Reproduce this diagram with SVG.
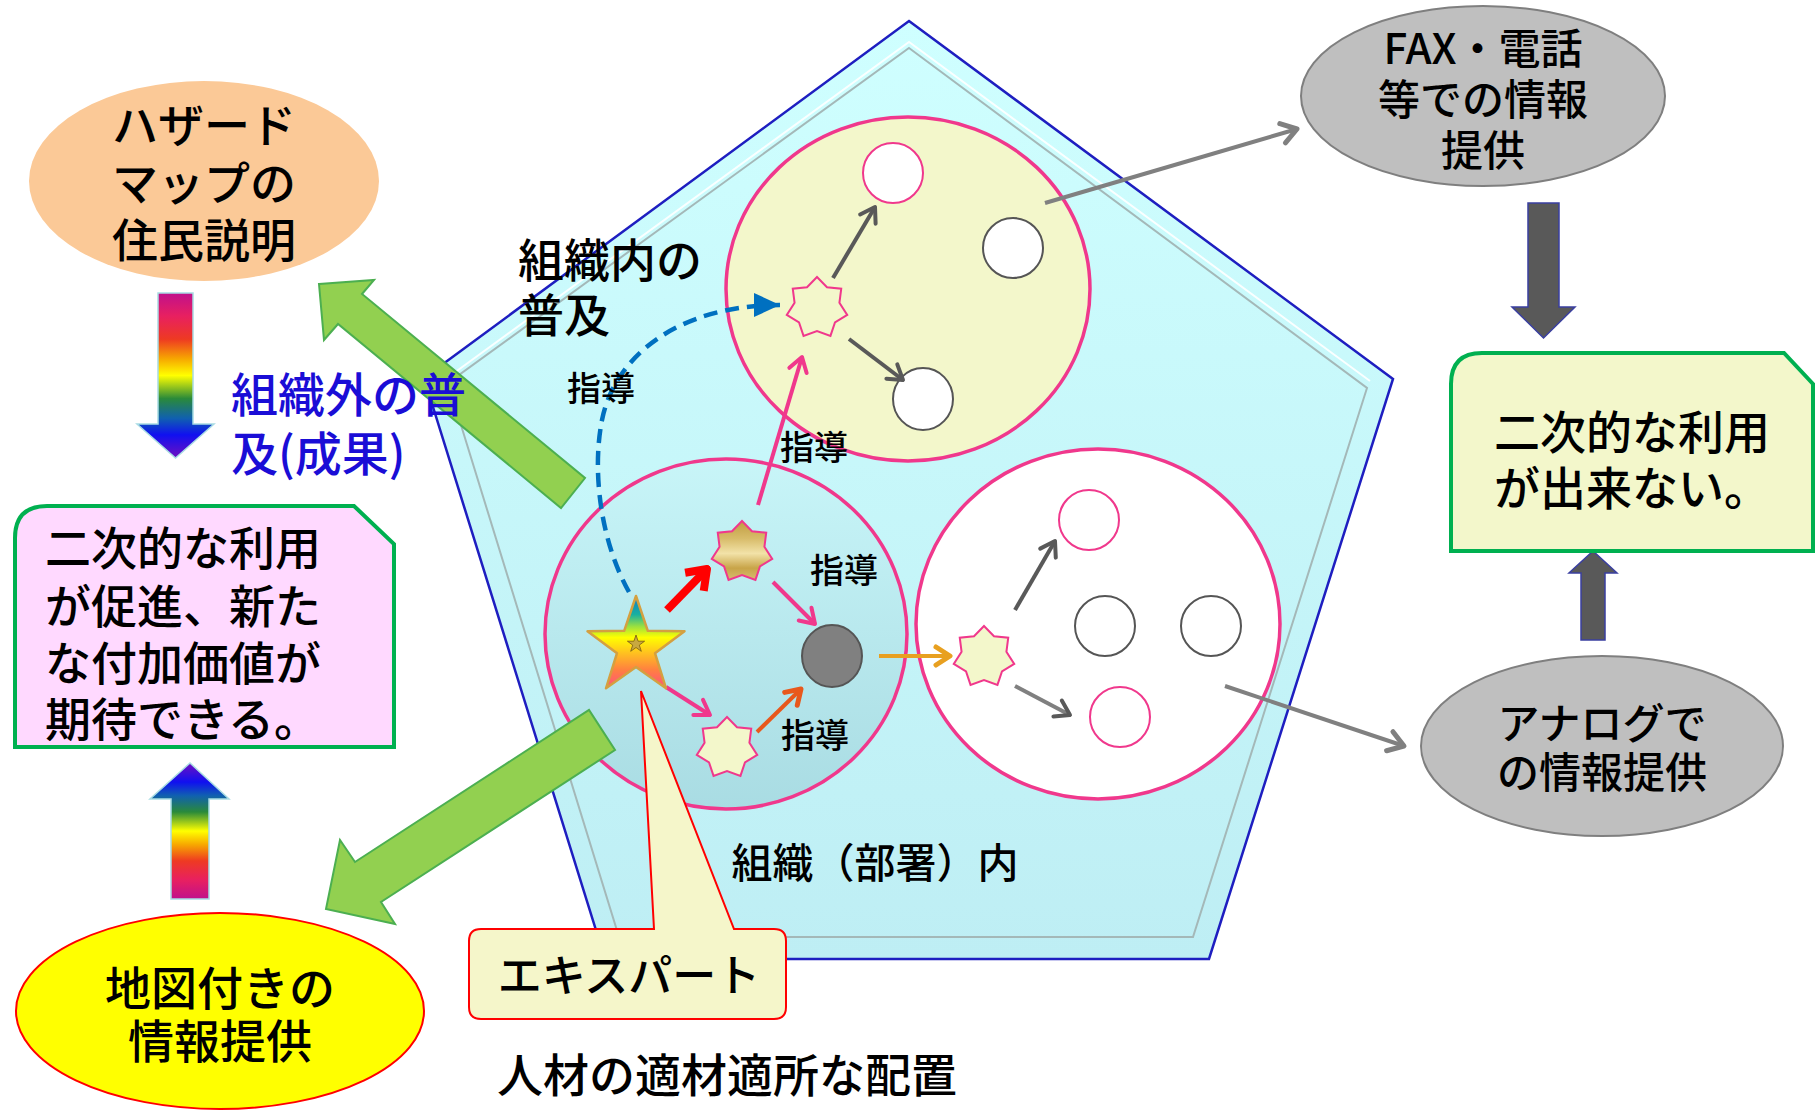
<svg xmlns="http://www.w3.org/2000/svg" xmlns:xlink="http://www.w3.org/1999/xlink" width="1816" height="1110" viewBox="0 0 1816 1110">
<style>
  .t { font-family: 'Noto Sans CJK JP', 'Noto Sans', sans-serif; fill: #000; font-weight: 500; }
  .t46 { font-size: 46px; }
  .t42 { font-size: 42px; }
  .t34 { font-size: 34px; }
  .mid { text-anchor: middle; }
  .blue { fill: #1A0DD6; font-size: 47px; }
  .ring { stroke: #F0388C; stroke-width: 3.5; }
  .small-pink { fill: #FFFFFF; stroke: #F0388C; stroke-width: 2; }
  .small-dark { fill: #FFFFFF; stroke: #555555; stroke-width: 2; }
  .st7 { stroke: #F0388C; stroke-width: 2; }
  .ln { fill: none; stroke-width: 4; }
  .green-block { fill: #92D050; stroke: #4CAF50; stroke-width: 2; }
  .dark-block { fill: #595959; stroke: #3A3FA0; stroke-width: 1.5; }
  .gray-oval { fill: #BFBFBF; stroke: #7F7F7F; stroke-width: 2; }
</style>
<defs>
  <linearGradient id="gPent" x1="0" y1="0" x2="0" y2="1">
    <stop offset="0" stop-color="#CFFFFF"/>
    <stop offset="1" stop-color="#BEEEF4"/>
  </linearGradient>
  <linearGradient id="gCircLeft" x1="0" y1="0" x2="0" y2="1">
    <stop offset="0" stop-color="#C8F5F8"/>
    <stop offset="1" stop-color="#A9DCE3"/>
  </linearGradient>
  <linearGradient id="gRainDown" x1="0" y1="0" x2="0" y2="1">
    <stop offset="0" stop-color="#C0108C"/>
    <stop offset="0.14" stop-color="#E82060"/>
    <stop offset="0.28" stop-color="#EE3A22"/>
    <stop offset="0.40" stop-color="#F7A800"/>
    <stop offset="0.50" stop-color="#FFFF00"/>
    <stop offset="0.64" stop-color="#2A8A3A"/>
    <stop offset="0.76" stop-color="#1060B0"/>
    <stop offset="0.86" stop-color="#1010F0"/>
    <stop offset="1" stop-color="#7010C0"/>
  </linearGradient>
  <linearGradient id="gRainUp" x1="0" y1="1" x2="0" y2="0">
    <stop offset="0" stop-color="#C0108C"/>
    <stop offset="0.14" stop-color="#E82060"/>
    <stop offset="0.28" stop-color="#EE3A22"/>
    <stop offset="0.40" stop-color="#F7A800"/>
    <stop offset="0.50" stop-color="#FFFF00"/>
    <stop offset="0.64" stop-color="#2A8A3A"/>
    <stop offset="0.76" stop-color="#1060B0"/>
    <stop offset="0.86" stop-color="#1010F0"/>
    <stop offset="1" stop-color="#7010C0"/>
  </linearGradient>
  <linearGradient id="gStar" x1="0" y1="0" x2="0" y2="1">
    <stop offset="0" stop-color="#1078C8"/>
    <stop offset="0.2" stop-color="#18B0A0"/>
    <stop offset="0.33" stop-color="#9AE040"/>
    <stop offset="0.45" stop-color="#FFFF00"/>
    <stop offset="0.62" stop-color="#FFC020"/>
    <stop offset="0.8" stop-color="#FF8040"/>
    <stop offset="1" stop-color="#FF5080"/>
  </linearGradient>
  <linearGradient id="gGold" x1="0" y1="0" x2="0" y2="1">
    <stop offset="0" stop-color="#C09C40"/>
    <stop offset="0.3" stop-color="#D8BC6A"/>
    <stop offset="0.55" stop-color="#F2E2A8"/>
    <stop offset="0.8" stop-color="#C8A448"/>
    <stop offset="1" stop-color="#D8BC70"/>
  </linearGradient>
  <path id="star7" d="M0,-31 L9.98,-20.72 L24.24,-19.33 L22.42,-5.12 L30.22,6.9 L17.98,14.34 L13.45,27.93 L0,23 L-13.45,27.93 L-17.98,14.34 L-30.22,6.9 L-22.42,-5.12 L-24.24,-19.33 L-9.98,-20.72 Z"/>
  <marker id="mk-dgray" viewBox="-20 -15 24 30" refX="0" refY="0" markerWidth="24" markerHeight="30" markerUnits="userSpaceOnUse" orient="auto">
    <path d="M-14,-9 L0,0 L-14,9" fill="none" stroke="#595959" stroke-width="4" stroke-linecap="round" stroke-linejoin="round"/>
  </marker>
  <marker id="mk-gray" viewBox="-20 -15 24 30" refX="0" refY="0" markerWidth="24" markerHeight="30" markerUnits="userSpaceOnUse" orient="auto">
    <path d="M-15,-10 L0,0 L-15,10" fill="none" stroke="#808080" stroke-width="5" stroke-linecap="round" stroke-linejoin="round"/>
  </marker>
  <marker id="mk-pink" viewBox="-20 -15 24 30" refX="0" refY="0" markerWidth="24" markerHeight="30" markerUnits="userSpaceOnUse" orient="auto">
    <path d="M-14,-9 L0,0 L-14,9" fill="none" stroke="#F0388C" stroke-width="4" stroke-linecap="round" stroke-linejoin="round"/>
  </marker>
  <marker id="mk-orange" viewBox="-20 -15 24 30" refX="0" refY="0" markerWidth="24" markerHeight="30" markerUnits="userSpaceOnUse" orient="auto">
    <path d="M-14,-9 L0,0 L-14,9" fill="none" stroke="#E8581C" stroke-width="5" stroke-linecap="round" stroke-linejoin="round"/>
  </marker>
  <marker id="mk-gold" viewBox="-20 -15 24 30" refX="0" refY="0" markerWidth="24" markerHeight="30" markerUnits="userSpaceOnUse" orient="auto">
    <path d="M-14,-9 L0,0 L-14,9" fill="none" stroke="#E8A020" stroke-width="5" stroke-linecap="round" stroke-linejoin="round"/>
  </marker>
  <marker id="mk-red" viewBox="-28 -20 32 40" refX="0" refY="0" markerWidth="32" markerHeight="40" markerUnits="userSpaceOnUse" orient="auto">
    <path d="M-18,-13 L0,0 L-18,13" fill="none" stroke="#FF0000" stroke-width="8" stroke-linecap="butt" stroke-linejoin="round"/>
  </marker>
  <marker id="mk-blue" viewBox="-30 -16 32 32" refX="0" refY="0" markerWidth="32" markerHeight="32" markerUnits="userSpaceOnUse" orient="auto">
    <path d="M-26,-12 L0,0 L-26,12 Z" fill="#0070C0"/>
  </marker>
</defs>

<rect x="0" y="0" width="1816" height="1110" fill="#FFFFFF"/>

<!-- Organisation pentagon -->
<g id="organization">
  <polygon points="909,21 1393,379 1209,959 605,959 424,378" fill="url(#gPent)" stroke="#1E1EC0" stroke-width="2.5"/>
  <polygon points="909,48 1367,388 1193,937 619,937 448,383" fill="none" stroke="#A4B8B8" stroke-width="2"/>
  <polyline points="443,381 909,42 1370,381" fill="none" stroke="#FFFFFF" stroke-width="2" opacity="0.9"/>
  <text class="t mid" x="875" y="878" font-size="41">組織（部署）内</text>
</g>

<!-- Top group circle -->
<g id="group-top">
  <ellipse cx="908" cy="289" rx="182" ry="172" fill="#F3F7CB" class="ring"/>
  <ellipse cx="893" cy="173" rx="30" ry="30" class="small-pink"/>
  <ellipse cx="1013" cy="248" rx="30" ry="30" class="small-dark"/>
  <ellipse cx="923" cy="399" rx="30" ry="31" class="small-dark"/>
  <use href="#star7" x="817" y="308" fill="#F3F7CB" class="st7"/>
</g>

<!-- Bottom-left group circle -->
<g id="group-left">
  <ellipse cx="726" cy="634" rx="181" ry="175" fill="url(#gCircLeft)" class="ring"/>
  <use href="#star7" x="742" y="552" fill="url(#gGold)" class="st7"/>
  <use href="#star7" x="727" y="748" fill="#F3F7CB" class="st7"/>
  <ellipse cx="832" cy="656" rx="30" ry="31" fill="#808080" stroke="#555555" stroke-width="2"/>
</g>

<!-- Right group circle -->
<g id="group-right">
  <ellipse cx="1098" cy="624" rx="182" ry="175" fill="#FFFFFF" class="ring"/>
  <use href="#star7" x="984" y="657" fill="#F3F7CB" class="st7"/>
  <ellipse cx="1089" cy="520" rx="30" ry="30" class="small-pink"/>
  <ellipse cx="1105" cy="626" rx="30" ry="30" class="small-dark"/>
  <ellipse cx="1211" cy="626" rx="30" ry="30" class="small-dark"/>
  <ellipse cx="1120" cy="717" rx="30" ry="30" class="small-pink"/>
</g>

<!-- Connectors -->
<g id="connectors">
  <polygon class="green-block" points="319,284 374,280 362,294 585,478 561,508 338,324 324,340"/>
  <polygon class="green-block" points="326,909 340,840 355,862 589,710 615,750 381,902 395,924"/>
  <path d="M629,592 C600,540 592,470 602,420 C615,355 680,305 780,305" fill="none" stroke="#0070C0" stroke-width="4.5" stroke-dasharray="14 8" marker-end="url(#mk-blue)"/>
  <line x1="667" y1="610" x2="707" y2="569" stroke="#FF0000" stroke-width="8" marker-end="url(#mk-red)"/>
  <line x1="773" y1="582" x2="815" y2="624" class="ln" stroke="#F0388C" marker-end="url(#mk-pink)"/>
  <line x1="666" y1="687" x2="710" y2="715" class="ln" stroke="#F0388C" marker-end="url(#mk-pink)"/>
  <line x1="757" y1="732" x2="801" y2="689" class="ln" stroke="#E8581C" stroke-width="5" marker-end="url(#mk-orange)"/>
  <line x1="758" y1="505" x2="802" y2="357" class="ln" stroke="#F0388C" marker-end="url(#mk-pink)"/>
  <line x1="879" y1="656" x2="950" y2="656" class="ln" stroke="#E8A020" stroke-width="5" marker-end="url(#mk-gold)"/>
  <line x1="833" y1="278" x2="875" y2="207" class="ln" stroke="#595959" marker-end="url(#mk-dgray)"/>
  <line x1="849" y1="339" x2="903" y2="380" class="ln" stroke="#595959" marker-end="url(#mk-dgray)"/>
  <line x1="1015" y1="610" x2="1055" y2="541" class="ln" stroke="#595959" marker-end="url(#mk-dgray)"/>
  <line x1="1015" y1="686" x2="1070" y2="715" class="ln" stroke="#808080" marker-end="url(#mk-dgray)"/>
  <line x1="1045" y1="203" x2="1297" y2="129" class="ln" stroke="#808080" stroke-width="5" marker-end="url(#mk-gray)"/>
  <line x1="1225" y1="686" x2="1404" y2="746" class="ln" stroke="#808080" stroke-width="5" marker-end="url(#mk-gray)"/>
  <polygon points="158,293 193,293 193,424 214,424 175.5,458 137,424 158,424" fill="url(#gRainDown)" stroke="#A8DCE4" stroke-width="1.5"/>
  <polygon points="171,899 209,899 209,799 229,799 190,763 150,799 171,799" fill="url(#gRainUp)" stroke="#A8DCE4" stroke-width="1.5"/>
  <polygon class="dark-block" points="1528,203 1559,203 1559,307 1575,307 1543.5,338 1512,307 1528,307"/>
  <polygon class="dark-block" points="1581,640 1605,640 1605,573 1617,573 1593,551 1569,573 1581,573"/>
</g>

<!-- Labels inside organisation -->
<g id="label-inner-spread">
  <text class="t t46" x="518" y="277">組織内の<tspan x="518" dy="55">普及</tspan></text>
</g>
<g id="label-guidance">
  <text class="t t34 mid" x="601" y="401">指導</text>
  <text class="t t34 mid" x="814" y="460">指導</text>
  <text class="t t34 mid" x="844" y="583">指導</text>
  <text class="t t34 mid" x="815" y="748">指導</text>
</g>

<!-- Expert callout -->
<g id="expert">
  <path d="M481,929 L654,929 L641,691 L734,929 L774,929 Q786,929 786,941 L786,1007 Q786,1019 774,1019 L481,1019 Q469,1019 469,1007 L469,941 Q469,929 481,929 Z" fill="#F5F6CA" stroke="#FF0000" stroke-width="2"/>
  <text class="t mid" x="629" y="992" font-size="44">エキスパート</text>
</g>

<!-- Expert star -->
<g id="expert-star">
  <polygon points="636,596 647.8,630.8 684.5,631.2 655,653.2 666,688.3 636,667 606,688.3 617,653.2 587.5,631.2 624.2,630.8" fill="url(#gStar)" stroke="#D4A040" stroke-width="2.5" stroke-linejoin="round"/>
  <polygon points="636,635 638.1,641.2 644.6,641.2 639.3,645.1 641.3,651.3 636,647.5 630.7,651.3 632.7,645.1 627.4,641.2 633.9,641.2" fill="#C8A840" stroke="#7A5A10" stroke-width="0.8"/>
</g>

<g id="placement-caption">
  <text class="t t46 mid" x="727" y="1092">人材の適材適所な配置</text>
</g>

<!-- Left side -->
<g id="hazard-map">
  <ellipse cx="204" cy="181" rx="175" ry="100" fill="#FBC997"/>
  <text class="t t46 mid" x="204" y="142">ハザード<tspan x="204" dy="58">マップの</tspan><tspan x="204" dy="57">住民説明</tspan></text>
</g>

<g id="outside-spread">
  <text class="t blue" x="231" y="412">組織外の普<tspan x="231" dy="59">及(成果)</tspan></text>
</g>

<g id="promote-box">
  <path d="M15,538 Q15,506 47,506 L354,506 L394,544 L394,747 L15,747 Z" fill="#FFD9FF" stroke="#00B050" stroke-width="4"/>
  <text class="t t46" x="45" y="565">二次的な利用<tspan x="45" dy="58">が促進、新た</tspan><tspan x="45" dy="57">な付加価値が</tspan><tspan x="45" dy="56">期待できる。</tspan></text>
</g>

<g id="map-info">
  <ellipse cx="220" cy="1011" rx="204" ry="98" fill="#FFFF00" stroke="#FF0000" stroke-width="2"/>
  <text class="t t46 mid" x="220" y="1005">地図付きの<tspan x="220" dy="53">情報提供</tspan></text>
</g>

<!-- Right side -->
<g id="fax-info">
  <ellipse cx="1483" cy="96" rx="182" ry="90" class="gray-oval"/>
  <text class="t t42 mid" x="1483" y="64">FAX・電話<tspan x="1483" dy="51">等での情報</tspan><tspan x="1483" dy="51">提供</tspan></text>
</g>

<g id="no-reuse-box">
  <path d="M1451,384 Q1451,353 1482,353 L1784,353 L1813,384 L1813,551 L1451,551 Z" fill="#F3F7CB" stroke="#00B050" stroke-width="4"/>
  <text class="t t46 mid" x="1632" y="449">二次的な利用<tspan x="1632" dy="56">が出来ない。</tspan></text>
</g>

<g id="analog-info">
  <ellipse cx="1602" cy="746" rx="181" ry="90" class="gray-oval"/>
  <text class="t t42 mid" x="1602" y="739">アナログで<tspan x="1602" dy="49">の情報提供</tspan></text>
</g>
</svg>
